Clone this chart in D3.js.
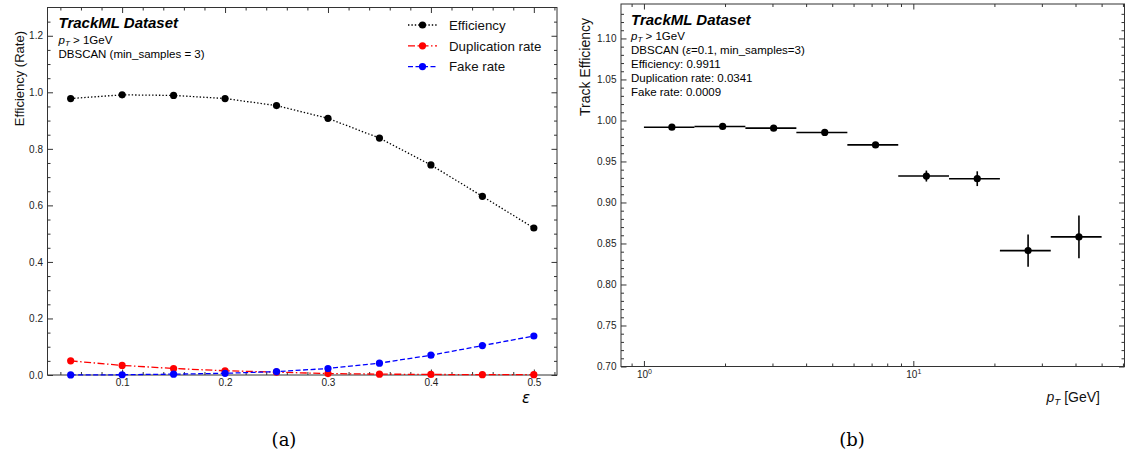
<!DOCTYPE html>
<html>
<head>
<meta charset="utf-8">
<script src="https://cdn.jsdelivr.net/npm/d3@7"></script>
<style>
  body { margin: 0; background: #fff; }
  svg { display: block; font-family: "Liberation Sans", Arial, sans-serif; }
  .tick text { fill: #222; font-size: 10px; font-family: "Liberation Sans", Arial, sans-serif; }
  .tick line { stroke: #333; }
</style>
</head>
<body>
<div id="chart"></div>
<script>
// (a) efficiency / duplication / fake rate vs DBSCAN epsilon
const epsValues = [0.05, 0.10, 0.15, 0.20, 0.25, 0.30, 0.35, 0.40, 0.45, 0.50];
const efficiency = [0.978, 0.991, 0.989, 0.978, 0.953, 0.908, 0.838, 0.743, 0.632, 0.520];
const duplicationRate = [0.050, 0.034, 0.023, 0.015, 0.010, 0.005, 0.003, 0.002, 0.001, 0.001];
const fakeRate = [0.0002, 0.0009, 0.003, 0.006, 0.012, 0.023, 0.042, 0.070, 0.104, 0.138];
const seriesNames = ["Efficiency", "Duplication rate", "Fake rate"];

// (b) track efficiency vs pT, log bins
const ptEdges = [1.00, 1.54, 2.38, 3.68, 5.69, 8.79, 13.57, 20.96, 32.37, 50.0];
const ptCenters = [1.27, 1.96, 3.03, 4.69, 7.24, 11.18, 17.27, 26.67, 41.19];
const trackEff = [0.9918, 0.9927, 0.9906, 0.9854, 0.9702, 0.9322, 0.9290, 0.8413, 0.8580];
const trackEffErr = [0.001, 0.001, 0.0015, 0.002, 0.003, 0.0067, 0.009, 0.0197, 0.026];
const infoLines = ["Efficiency: 0.9911", "Duplication rate: 0.0341", "Fake rate: 0.0009"];

const svg = d3.select("#chart").append("svg")
    .attr("width", 1126)
    .attr("height", 458);

// inward ticks on all four sides, major + minor
function frameTicks(g, x, y, w, h, opt){
    const major = 5.5, minor = 3;
    g.append("g").attr("transform", `translate(0,${h})`)
        .call(d3.axisBottom(x).tickValues(opt.xMinor).tickSize(-minor).tickFormat(""));
    g.append("g").attr("transform", `translate(0,${h})`)
        .attr("class", "xmajor")
        .call(d3.axisBottom(x).tickValues(opt.xMajor).tickSize(-major).tickPadding(4).tickFormat(opt.xFmt));
    g.append("g")
        .call(d3.axisTop(x).tickValues(opt.xMinor).tickSize(-minor).tickFormat(""));
    g.append("g")
        .call(d3.axisTop(x).tickValues(opt.xMajor).tickSize(-major).tickFormat(""));
    g.append("g")
        .call(d3.axisLeft(y).tickValues(opt.yMinor).tickSize(-minor).tickFormat(""));
    g.append("g")
        .call(d3.axisLeft(y).tickValues(opt.yMajor).tickSize(-major).tickPadding(4.5).tickFormat(opt.yFmt));
    g.append("g").attr("transform", `translate(${w},0)`)
        .call(d3.axisRight(y).tickValues(opt.yMinor).tickSize(-minor).tickFormat(""));
    g.append("g").attr("transform", `translate(${w},0)`)
        .call(d3.axisRight(y).tickValues(opt.yMajor).tickSize(-major).tickFormat(""));
    g.selectAll(".domain").remove();
    g.append("rect")
        .attr("width", w).attr("height", h)
        .attr("fill", "none").attr("stroke", "#333").attr("stroke-width", 1);
}

// p_T text with italic p and subscript T
function ptText(sel, tail, size){
    sel.append("tspan").attr("font-style", "italic").text("p");
    sel.append("tspan").attr("font-style", "italic").attr("font-size", size * 0.7).attr("dy", size * 0.22).text("T");
    sel.append("tspan").attr("dy", -size * 0.22).text(tail);
}

// ---------- panel (a) ----------
const A = {left: 47.5, top: 7.5, width: 509.5, height: 367.5};
const ga = svg.append("g").attr("transform", `translate(${A.left},${A.top})`);

const xA = d3.scaleLinear().domain([0.0275, 0.5225]).range([0, A.width]);
const yA = d3.scaleLinear().domain([0, 1.3]).range([A.height, 0]);

frameTicks(ga, xA, yA, A.width, A.height, {
    xMajor: [0.1, 0.2, 0.3, 0.4, 0.5],
    xMinor: d3.range(0.04, 0.521, 0.02).filter(v => Math.abs(v * 10 - Math.round(v * 10)) > 1e-6),
    yMajor: [0, 0.2, 0.4, 0.6, 0.8, 1.0, 1.2],
    yMinor: d3.range(0.05, 1.3, 0.05).filter(v => Math.abs(v * 5 - Math.round(v * 5)) > 1e-6),
    xFmt: d3.format(".1f"),
    yFmt: d3.format(".1f")
});

const seriesA = [
    {name: seriesNames[0], values: efficiency, color: "#000", dash: "1.4,2"},
    {name: seriesNames[1], values: duplicationRate, color: "#ff0000", dash: "7,2.5,1.5,2.5"},
    {name: seriesNames[2], values: fakeRate, color: "#0000ff", dash: "5,2.5"}
];

const lineA = d3.line().x((d, i) => xA(epsValues[i])).y(d => yA(d));

seriesA.forEach(s => {
    ga.append("path")
        .attr("d", lineA(s.values))
        .attr("fill", "none")
        .attr("stroke", s.color)
        .attr("stroke-width", 1.3)
        .attr("stroke-dasharray", s.dash);
    ga.selectAll(null).data(s.values).enter()
        .append("circle")
        .attr("cx", (d, i) => xA(epsValues[i]))
        .attr("cy", d => yA(d))
        .attr("r", 3.6)
        .attr("fill", s.color);
});

// legend
const legA = ga.append("g").attr("transform", `translate(${408 - A.left},${25 - A.top})`);
seriesA.forEach((s, i) => {
    const row = legA.append("g").attr("transform", `translate(0,${i * 20.8})`);
    row.append("line")
        .attr("x1", 0).attr("x2", 29)
        .attr("stroke", s.color).attr("stroke-width", 1.3)
        .attr("stroke-dasharray", s.dash);
    row.append("circle").attr("cx", 14.5).attr("r", 3.6).attr("fill", s.color);
    row.append("text")
        .attr("x", 41).attr("y", 4.7)
        .attr("font-size", 13.3).attr("fill", "#111")
        .text(s.name);
});

// labels panel (a)
ga.append("text")
    .attr("x", 11).attr("y", 20)
    .attr("font-size", 15).attr("font-weight", "bold").attr("font-style", "italic")
    .text("TrackML Dataset");
ptText(ga.append("text").attr("x", 11).attr("y", 36).attr("font-size", 11.5), " > 1GeV", 11.5);
ga.append("text")
    .attr("x", 11).attr("y", 50)
    .attr("font-size", 11.5)
    .text("DBSCAN (min_samples = 3)");

svg.append("text")
    .attr("transform", "translate(24,31) rotate(-90)")
    .attr("text-anchor", "end")
    .attr("font-size", 13).attr("fill", "#111")
    .text("Efficiency (Rate)");

svg.append("text")
    .attr("x", 530).attr("y", 403)
    .attr("text-anchor", "end")
    .attr("font-family", "DejaVu Sans").attr("font-style", "italic")
    .attr("font-size", 15)
    .text("ε");

svg.append("text")
    .attr("x", 284).attr("y", 446)
    .attr("text-anchor", "middle")
    .attr("font-family", "'DejaVu Serif', serif").attr("font-size", 18)
    .text("(a)");

// ---------- panel (b) ----------
const B = {left: 621, top: 4, width: 503.5, height: 362.5};
const gb = svg.append("g").attr("transform", `translate(${B.left},${B.top})`);

const xB = d3.scaleLog().domain([0.822, 60.8]).range([0, B.width]);
const yB = d3.scaleLinear().domain([0.70, 1.142]).range([B.height, 0]);

const logMinor = [0.9, 2, 3, 4, 5, 6, 7, 8, 9, 20, 30, 40, 50, 60];
frameTicks(gb, xB, yB, B.width, B.height, {
    xMajor: [1, 10],
    xMinor: logMinor,
    yMajor: [0.70, 0.75, 0.80, 0.85, 0.90, 0.95, 1.00, 1.05, 1.10],
    yMinor: d3.range(0.71, 1.14, 0.01).filter(v => Math.abs(v * 20 - Math.round(v * 20)) > 1e-6),
    xFmt: () => "",
    yFmt: d3.format(".2f")
});

// 10^n labels
gb.select(".xmajor").selectAll(".tick text").each(function(d){
    const t = d3.select(this);
    t.text("10");
    t.append("tspan").attr("font-size", 7).attr("dy", "-0.45em").text(Math.round(Math.log10(d)));
});

const pts = gb.selectAll(".pt").data(trackEff).enter().append("g").attr("class", "pt");
pts.append("line")
    .attr("x1", (d, i) => xB(ptEdges[i]))
    .attr("x2", (d, i) => xB(ptEdges[i + 1]))
    .attr("y1", d => yB(d)).attr("y2", d => yB(d))
    .attr("stroke", "#000").attr("stroke-width", 1.6);
pts.append("line")
    .attr("x1", (d, i) => xB(ptCenters[i]))
    .attr("x2", (d, i) => xB(ptCenters[i]))
    .attr("y1", (d, i) => yB(d - trackEffErr[i]))
    .attr("y2", (d, i) => yB(d + trackEffErr[i]))
    .attr("stroke", "#000").attr("stroke-width", 1.6);
pts.append("circle")
    .attr("cx", (d, i) => xB(ptCenters[i]))
    .attr("cy", d => yB(d))
    .attr("r", 3.6)
    .attr("fill", "#000");

// labels panel (b)
gb.append("text")
    .attr("x", 10).attr("y", 21)
    .attr("font-size", 15).attr("font-weight", "bold").attr("font-style", "italic")
    .text("TrackML Dataset");
ptText(gb.append("text").attr("x", 10).attr("y", 35.5).attr("font-size", 11.5), " > 1GeV", 11.5);
const dbB = gb.append("text").attr("x", 10).attr("y", 49.5).attr("font-size", 11.5);
dbB.append("tspan").text("DBSCAN (");
dbB.append("tspan").attr("font-style", "italic").text("ε");
dbB.append("tspan").text("=0.1, min_samples=3)");
infoLines.forEach((t, i) => {
    gb.append("text")
        .attr("x", 10).attr("y", 63.8 + i * 14.3)
        .attr("font-size", 11.5)
        .text(t);
});

svg.append("text")
    .attr("transform", "translate(590,18) rotate(-90)")
    .attr("text-anchor", "end")
    .attr("font-size", 14).attr("fill", "#111")
    .text("Track Efficiency");

ptText(svg.append("text")
    .attr("x", 1100).attr("y", 402)
    .attr("text-anchor", "end")
    .attr("font-size", 14).attr("fill", "#111"), " [GeV]", 14);

svg.append("text")
    .attr("x", 852).attr("y", 446)
    .attr("text-anchor", "middle")
    .attr("font-family", "'DejaVu Serif', serif").attr("font-size", 18)
    .text("(b)");
</script>
</body>
</html>
